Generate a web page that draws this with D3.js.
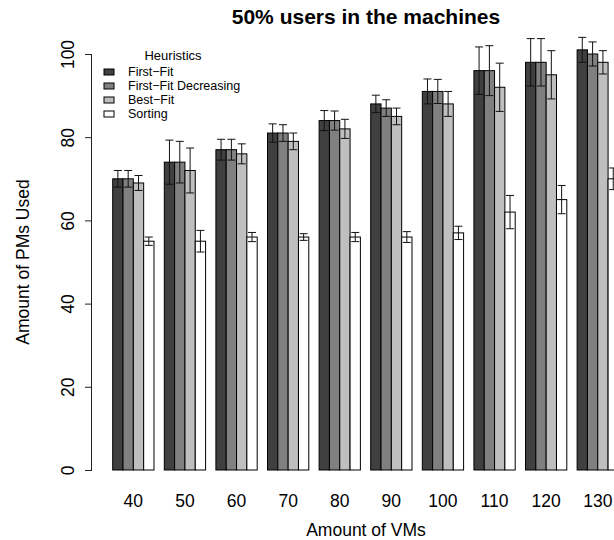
<!DOCTYPE html>
<html>
<head>
<meta charset="utf-8">
<script src="https://cdn.jsdelivr.net/npm/d3@7"></script>
<style>
  html, body { margin: 0; padding: 0; background: #fff; }
  svg { display: block; font-family: "Liberation Sans", Arial, Helvetica, sans-serif; }
</style>
</head>
<body>
<svg id="chart" width="614" height="540"></svg>
<script>
// ---- data ----
const categories = ["40", "50", "60", "70", "80", "90", "100", "110", "120", "130"];
const seriesNames = ["First\u2212Fit", "First\u2212Fit Decreasing", "Best\u2212Fit", "Sorting"];
const firstFit      = [70, 74, 77, 81, 84, 88, 91, 96, 98, 101];
const firstFitErr   = [2, 5.3, 2.5, 2.2, 2.4, 2.1, 3, 5.7, 5.7, 3];
const firstFitDec   = [70, 74, 77, 81, 84, 87, 91, 96, 98, 100];
const firstFitDecErr= [2, 5, 2.5, 2, 2.3, 2, 2.9, 6, 5.7, 2.9];
const bestFit       = [69, 72, 76, 79, 82, 85, 88, 92, 95, 98];
const bestFitErr    = [1.8, 5.4, 2.4, 2, 2.3, 2, 3, 5.8, 5.8, 2.8];
const sorting       = [55, 55, 56, 56, 56, 56, 57, 62, 65, 70];
const sortingErr    = [1, 2.6, 1.1, 0.8, 1.1, 1.3, 1.6, 4, 3.4, 2.6];
const yTicks = [0, 20, 40, 60, 80, 100];
const colors = ["#404040", "#808080", "#bfbfbf", "#ffffff"];

const values = [firstFit, firstFitDec, bestFit, sorting];
const errors = [firstFitErr, firstFitDecErr, bestFitErr, sortingErr];
const rows = [];
categories.forEach((c, i) => {
  seriesNames.forEach((s, j) => {
    rows.push({ cat: c, series: s, j: j, v: values[j][i], e: errors[j][i] });
  });
});

// ---- layout ----
const svg = d3.select("#chart");
const x = d3.scaleBand().domain(categories).range([112.7, 618.4]).paddingInner(0.2).paddingOuter(0);
const xs = d3.scaleBand().domain(seriesNames).range([0, x.bandwidth()]).padding(0);
const y = d3.scaleLinear().domain([0, 100]).range([470, 54]);

// bars
svg.append("g").selectAll("rect").data(rows).join("rect")
  .attr("x", d => x(d.cat) + xs(d.series))
  .attr("y", d => y(d.v))
  .attr("width", xs.bandwidth())
  .attr("height", d => y(0) - y(d.v))
  .attr("fill", d => colors[d.j])
  .attr("stroke", "#000")
  .attr("stroke-width", 1);

// error bars
const cap = 4;
const eb = svg.append("g").attr("stroke", "#111").attr("stroke-width", 1).attr("fill", "none");
rows.forEach(d => {
  const cx = x(d.cat) + xs(d.series) + xs.bandwidth() / 2;
  const y1 = y(d.v + d.e), y2 = y(d.v - d.e);
  eb.append("line").attr("x1", cx).attr("x2", cx).attr("y1", y1).attr("y2", y2);
  eb.append("line").attr("x1", cx - cap).attr("x2", cx + cap).attr("y1", y1).attr("y2", y1);
  eb.append("line").attr("x1", cx - cap).attr("x2", cx + cap).attr("y1", y2).attr("y2", y2);
});

// y axis
const yAxis = d3.axisLeft(y).tickValues(yTicks).tickSize(7).tickPadding(0).tickFormat(d3.format("d"));
const gy = svg.append("g").attr("transform", "translate(92,0)").call(yAxis);
gy.select(".domain").attr("d", `M-0.5,${y(0)}V${y(100)}`).attr("stroke", "#222");
gy.selectAll(".tick line").attr("stroke", "#222");
gy.selectAll(".tick text")
  .attr("x", 0).attr("y", 0).attr("dy", null)
  .attr("transform", "translate(-24,0) rotate(-90)")
  .attr("text-anchor", "middle")
  .attr("dominant-baseline", "central")
  .attr("font-size", "17.5px")
  .attr("font-family", "Liberation Sans, Arial, sans-serif")
  .attr("fill", "#000");

// x axis labels (no line)
const xAxis = d3.axisBottom(x).tickSize(0).tickPadding(0);
const gx = svg.append("g").attr("transform", `translate(0,${y(0)})`).call(xAxis);
gx.select(".domain").remove();
gx.selectAll(".tick text")
  .attr("y", 37).attr("dy", null)
  .attr("font-size", "17.5px")
  .attr("font-family", "Liberation Sans, Arial, sans-serif")
  .attr("fill", "#000");

// titles
svg.append("text").attr("x", 366).attr("y", 24).attr("text-anchor", "middle")
  .attr("font-weight", "bold").attr("font-size", "21px").text("50% users in the machines");
svg.append("text").attr("x", 366).attr("y", 536).attr("text-anchor", "middle")
  .attr("font-size", "17.5px").text("Amount of VMs");
svg.append("text").attr("transform", "translate(23,262) rotate(-90)").attr("text-anchor", "middle")
  .attr("dominant-baseline", "central")
  .attr("font-size", "17.5px").text("Amount of PMs Used");

// legend
const lg = svg.append("g");
lg.append("text").attr("x", 173).attr("y", 60).attr("text-anchor", "middle")
  .attr("font-size", "13px").text("Heuristics");
const rowY = d3.scaleLinear().domain([0, 3]).range([72, 114]);
seriesNames.forEach((s, j) => {
  lg.append("rect").attr("x", 104).attr("y", rowY(j) - 3).attr("width", 10).attr("height", 6)
    .attr("fill", colors[j]).attr("stroke", "#000").attr("stroke-width", 1);
  lg.append("text").attr("x", 128).attr("y", rowY(j)).attr("dominant-baseline", "central")
    .attr("font-size", "12.5px").text(s);
});
</script>
</body>
</html>
